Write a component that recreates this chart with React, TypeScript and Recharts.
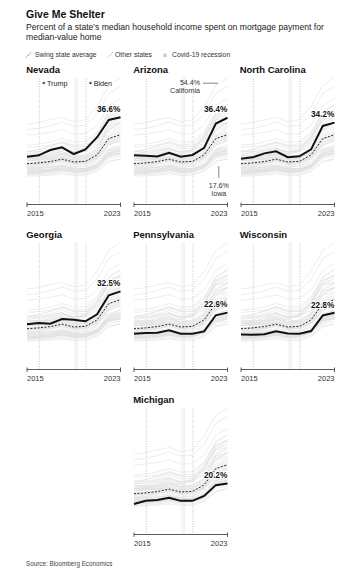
import React from 'react';
import { LineChart, Line, XAxis, YAxis, ReferenceLine, ReferenceArea, ReferenceDot, LabelList } from 'recharts';

const FONT = '"Liberation Sans", Arial, Helvetica, sans-serif';

// ---------- data ----------
const years = [2015, 2016, 2017, 2018, 2019, 2020, 2021, 2022, 2023];
const xTicks = [2015, 2023];
const swingAverage = [15.6, 16.0, 16.6, 17.7, 16.4, 16.7, 19.6, 27.0, 28.7];

const nevada = [18.8, 19.4, 21.8, 23.0, 20.0, 22.1, 27.6, 35.4, 36.6];
const arizona = [19.4, 19.2, 18.9, 20.6, 18.8, 19.6, 22.8, 33.8, 36.4];
const northCarolina = [17.9, 18.5, 20.3, 21.2, 18.6, 19.0, 22.1, 32.7, 34.2];
const georgia = [17.6, 18.2, 17.9, 20.0, 19.7, 19.0, 22.1, 30.7, 32.5];
const pennsylvania = [13.4, 13.7, 13.8, 14.9, 13.4, 13.4, 14.4, 21.7, 22.9];
const wisconsin = [13.0, 12.9, 13.1, 14.5, 13.5, 13.4, 14.6, 21.6, 22.8];
const michigan = [11.0, 12.4, 12.8, 13.8, 12.4, 12.4, 14.6, 19.5, 20.2];

const california = [33.5, 34.2, 35.5, 36.5, 34.5, 35.5, 41.5, 51.0, 54.4];
const hawaii = [31.0, 31.6, 32.8, 34.5, 32.6, 33.0, 38.0, 47.5, 50.5];
const districtOfColumbia = [28.5, 29.0, 29.8, 31.0, 29.0, 29.2, 33.0, 42.0, 45.0];
const massachusetts = [24.0, 24.5, 25.4, 27.0, 25.4, 25.6, 30.0, 39.0, 42.0];
const washington = [21.0, 21.9, 23.6, 25.8, 24.0, 24.6, 29.2, 39.0, 42.5];
const oregon = [21.2, 22.0, 23.4, 25.0, 23.2, 23.6, 28.0, 37.0, 40.0];
const colorado = [20.0, 20.9, 22.4, 24.0, 22.2, 22.6, 27.0, 36.0, 39.0];
const utah = [18.0, 18.9, 20.4, 22.5, 21.0, 21.6, 27.0, 37.0, 40.0];
const idaho = [16.8, 17.8, 19.4, 21.8, 20.8, 22.0, 28.2, 38.0, 39.5];
const montana = [17.8, 18.4, 19.5, 21.0, 20.0, 21.0, 26.0, 35.5, 38.0];
const newYork = [23.0, 23.4, 24.0, 25.2, 23.6, 23.5, 26.0, 32.0, 34.5];
const newJersey = [21.0, 21.2, 21.6, 22.6, 21.0, 21.1, 24.0, 31.0, 34.0];
const florida = [17.0, 17.5, 18.5, 20.0, 18.6, 19.0, 22.2, 31.0, 34.0];
const rhodeIsland = [20.0, 20.4, 21.0, 22.4, 21.0, 21.5, 25.0, 33.0, 36.0];
const connecticut = [18.2, 18.1, 18.0, 18.6, 17.1, 17.0, 19.0, 25.0, 28.0];
const maryland = [19.0, 19.0, 19.4, 20.0, 18.5, 18.6, 20.6, 26.0, 28.2];
const virginia = [18.0, 18.2, 18.7, 19.5, 18.0, 18.2, 20.5, 27.0, 29.0];
const newHampshire = [17.0, 17.3, 17.8, 19.0, 17.8, 18.0, 21.0, 28.0, 31.0];
const maine = [16.0, 16.4, 17.0, 18.5, 17.5, 18.0, 21.5, 29.0, 32.0];
const vermont = [17.2, 17.3, 17.6, 18.4, 17.3, 17.5, 20.0, 26.5, 29.5];
const delaware = [16.0, 16.2, 16.6, 17.5, 16.2, 16.4, 18.5, 25.0, 27.5];
const tennessee = [14.0, 14.5, 15.5, 17.0, 16.0, 16.5, 20.0, 28.0, 30.0];
const southCarolina = [14.5, 15.0, 15.8, 17.0, 15.8, 16.2, 19.0, 26.5, 29.0];
const texas = [15.0, 15.5, 16.2, 17.2, 15.8, 16.0, 18.5, 25.5, 27.0];
const newMexico = [15.5, 15.7, 16.0, 16.8, 15.5, 15.7, 18.0, 24.5, 26.5];
const alaska = [17.0, 17.2, 17.4, 18.0, 16.8, 16.5, 18.0, 22.5, 24.0];
const minnesota = [14.0, 14.3, 14.8, 15.7, 14.5, 14.6, 16.5, 22.0, 24.0];
const wyoming = [15.0, 15.3, 15.8, 16.5, 15.2, 15.5, 18.0, 24.0, 26.0];
const southDakota = [13.0, 13.4, 14.0, 15.0, 14.0, 14.5, 17.5, 24.0, 26.0];
const alabama = [12.5, 12.8, 13.3, 14.2, 13.2, 13.5, 15.8, 21.5, 23.0];
const louisiana = [13.5, 13.7, 14.0, 14.6, 13.4, 13.3, 15.0, 20.0, 21.5];
const missouri = [12.0, 12.3, 12.8, 13.8, 12.8, 13.0, 15.2, 20.8, 22.5];
const kentucky = [12.0, 12.3, 12.8, 13.6, 12.7, 12.9, 15.0, 20.5, 22.0];
const indiana = [11.0, 11.3, 11.8, 12.8, 12.0, 12.3, 14.6, 20.0, 21.5];
const ohio = [11.0, 11.2, 11.6, 12.4, 11.6, 11.8, 13.7, 18.8, 20.0];
const nebraska = [12.5, 12.7, 13.1, 13.9, 12.9, 13.0, 15.0, 20.3, 21.8];
const kansas = [11.5, 11.7, 12.1, 12.9, 12.0, 12.1, 14.0, 19.3, 20.5];
const oklahoma = [11.6, 11.8, 12.2, 13.0, 12.0, 12.2, 14.2, 19.5, 20.8];
const arkansas = [11.4, 11.8, 12.3, 13.2, 12.3, 12.6, 14.8, 20.3, 21.5];
const mississippi = [11.5, 11.7, 12.1, 12.8, 11.8, 12.0, 13.9, 18.8, 20.0];
const northDakota = [12.0, 12.2, 12.5, 13.0, 12.0, 12.0, 13.5, 18.0, 19.0];
const illinois = [14.0, 14.0, 14.2, 14.8, 13.6, 13.5, 15.0, 19.5, 20.5];
const westVirginia = [10.0, 10.2, 10.5, 11.0, 10.3, 10.4, 12.0, 16.5, 18.0];
const iowa = [10.5, 10.7, 11.0, 11.7, 10.9, 11.0, 12.7, 16.8, 17.6];

const swingStates = [
  { name: 'Nevada', values: nevada },
  { name: 'Arizona', values: arizona },
  { name: 'North Carolina', values: northCarolina },
  { name: 'Georgia', values: georgia },
  { name: 'Pennsylvania', values: pennsylvania },
  { name: 'Wisconsin', values: wisconsin },
  { name: 'Michigan', values: michigan },
];

const otherStates = [
  california, hawaii, districtOfColumbia, massachusetts, washington, oregon, colorado, utah,
  idaho, montana, newYork, newJersey, florida, rhodeIsland, connecticut, maryland, virginia,
  newHampshire, maine, vermont, delaware, tennessee, southCarolina, texas, newMexico, alaska,
  minnesota, wyoming, southDakota, alabama, louisiana, missouri, kentucky, indiana, ohio,
  nebraska, kansas, oklahoma, arkansas, mississippi, northDakota, illinois, westVirginia, iowa,
];

const trumpStart = 2016.05;
const bidenStart = 2020.05;
const covidStart = 2019.1;
const covidEnd = 2019.33;

// ---------- layout ----------
const PLOT_W = 93.5;
const PLOT_H = 127.5;
const M = 10;
const AX_H = 22;
const AXIS_Y = M + PLOT_H;
const colLeft = [27, 134, 240.5];
const rowTop = [77, 242, 407];
const panelPos = [
  [0, 0], [1, 0], [2, 0],
  [0, 1], [1, 1], [2, 1],
  [1, 2],
];

function YearTick(props: any) {
  const { x, payload } = props;
  const first = payload.value === xTicks[0];
  return (
    <g>
      <line x1={x} x2={x} y1={AXIS_Y - 2} y2={AXIS_Y + 2.5} stroke="#333" strokeWidth={0.8} />
      <text x={x} y={AXIS_Y + 11.5} textAnchor={first ? 'start' : 'end'} fontSize={7.5} fontFamily={FONT} fill="#333">
        {payload.value}
      </text>
    </g>
  );
}

function RefTag(props: any) {
  const { viewBox, text } = props;
  if (!viewBox) return null;
  const x = viewBox.x;
  const y = viewBox.y;
  return (
    <g>
      <polygon points={`${x + 2.6},${y + 6} ${x + 5.4},${y + 4.5} ${x + 5.4},${y + 7.5}`} fill="#333" />
      <text x={x + 7.7} y={y + 8.5} fontSize={7.2} fontFamily={FONT} fill="#222">{text}</text>
    </g>
  );
}

function CaliforniaTag(props: any) {
  const { viewBox } = props;
  if (!viewBox) return null;
  const cx = viewBox.x + (viewBox.width || 0) / 2;
  const cy = viewBox.y + (viewBox.height || 0) / 2;
  return (
    <g>
      <text x={cx - 27.5} y={cy + 7} textAnchor="end" fontSize={7.1} fontFamily={FONT} fill="#333">54.4%</text>
      <line x1={cx - 24.5} x2={cx - 9.5} y1={cy + 5.3} y2={cy + 5.3} stroke="#555" strokeWidth={0.7} />
      <text x={cx - 27.5} y={cy + 14.7} textAnchor="end" fontSize={7.1} fontFamily={FONT} fill="#333">California</text>
    </g>
  );
}

function IowaTag(props: any) {
  const { viewBox } = props;
  if (!viewBox) return null;
  const cx = viewBox.x + (viewBox.width || 0) / 2;
  const cy = viewBox.y + (viewBox.height || 0) / 2;
  const lx = cx - 8.7;
  return (
    <g>
      <line x1={lx} x2={lx} y1={cy + 6.7} y2={cy + 18.7} stroke="#555" strokeWidth={0.7} />
      <text x={lx} y={cy + 29} textAnchor="middle" fontSize={7.1} fontFamily={FONT} fill="#333">17.6%</text>
      <text x={lx} y={cy + 36.4} textAnchor="middle" fontSize={7.1} fontFamily={FONT} fill="#333">Iowa</text>
    </g>
  );
}

function Panel({ index }: { index: number }) {
  const state = swingStates[index];
  const [c, r] = panelPos[index];
  const left = colLeft[c];
  const top = rowTop[r];
  const greys = [
    ...otherStates,
    ...swingStates.filter((_, k) => k !== index).map((s) => s.values),
  ];
  const data = years.map((y, i) => {
    const row: any = { year: y, avg: swingAverage[i], main: state.values[i] };
    greys.forEach((g, k) => {
      row['o' + k] = g[i];
    });
    return row;
  });
  const last = years.length - 1;
  return (
    <div style={{ position: 'absolute', left: left - M, top: top - M }}>
      <LineChart
        width={PLOT_W + 2 * M}
        height={M + PLOT_H + AX_H}
        data={data}
        margin={{ top: M, right: M, left: M, bottom: 0 }}
      >
        <XAxis
          dataKey="year"
          type="number"
          domain={[years[0], years[last]]}
          ticks={xTicks}
          interval={0}
          height={AX_H}
          axisLine={{ stroke: '#333', strokeWidth: 0.8 }}
          tickLine={false}
          tick={<YearTick />}
        />
        <YAxis hide type="number" domain={[-2.8, 54.8]} allowDataOverflow />
        <ReferenceArea x1={covidStart} x2={covidEnd} fill="#f7f7f7" fillOpacity={1} stroke="none" />
        <ReferenceLine x={covidStart} stroke="#e6e6e6" strokeWidth={0.5} />
        <ReferenceLine x={covidEnd} stroke="#e6e6e6" strokeWidth={0.5} />
        <ReferenceLine
          x={trumpStart}
          stroke="#a8a8a8"
          strokeWidth={0.7}
          strokeDasharray="1 1.5"
          label={index === 0 ? <RefTag text="Trump" /> : undefined}
        />
        <ReferenceLine
          x={bidenStart}
          stroke="#a8a8a8"
          strokeWidth={0.7}
          strokeDasharray="1 1.5"
          label={index === 0 ? <RefTag text="Biden" /> : undefined}
        />
        {greys.map((_, k) => (
          <Line
            key={'o' + k}
            dataKey={'o' + k}
            stroke="#e0e0e0"
            strokeWidth={0.6}
            dot={false}
            activeDot={false}
            isAnimationActive={false}
          />
        ))}
        <Line
          dataKey="avg"
          stroke="#222"
          strokeWidth={1}
          strokeDasharray="2 1.5"
          dot={false}
          activeDot={false}
          isAnimationActive={false}
        />
        <Line
          dataKey="main"
          stroke="#111"
          strokeWidth={2}
          dot={false}
          activeDot={false}
          isAnimationActive={false}
        >
          <LabelList
            dataKey="main"
            content={(lp: any) =>
              lp.index === last ? (
                <text
                  x={lp.x}
                  y={lp.y - 5.3}
                  textAnchor="end"
                  fontSize={8.3}
                  fontWeight={700}
                  fontFamily={FONT}
                  fill="#111"
                  stroke="#fff"
                  strokeWidth={2}
                  paintOrder="stroke"
                >
                  {Number(lp.value).toFixed(1)}%
                </text>
              ) : null
            }
          />
        </Line>
        {index === 1 && (
          <ReferenceDot x={years[last]} y={california[last]} r={1} fill="none" stroke="none" label={<CaliforniaTag />} />
        )}
        {index === 1 && (
          <ReferenceDot x={years[last]} y={iowa[last]} r={1} fill="none" stroke="none" label={<IowaTag />} />
        )}
      </LineChart>
    </div>
  );
}

export default function App() {
  return (
    <div style={{ position: 'absolute', left: 0, top: 0, width: 352, height: 578, background: '#fff', overflow: 'hidden' }}>
      <svg width={352} height={578} style={{ position: 'absolute', left: 0, top: 0 }}>
        <text x={26} y={18.3} fontSize={10.5} fontWeight={700} fontFamily={FONT} fill="#111">Give Me Shelter</text>
        <text x={26} y={30} fontSize={8.6} fontFamily={FONT} fill="#222">
          Percent of a state's median household income spent on mortgage payment for
        </text>
        <text x={26} y={39.5} fontSize={8.6} fontFamily={FONT} fill="#222">median-value home</text>

        <line x1={26} y1={57.5} x2={31.5} y2={52} stroke="#333" strokeWidth={0.9} strokeDasharray="1 1" />
        <text x={35} y={56.8} fontSize={6.8} fontFamily={FONT} fill="#333">Swing state average</text>
        <line x1={108} y1={57.5} x2={113} y2={52} stroke="#c8c8c8" strokeWidth={0.9} />
        <text x={115} y={56.8} fontSize={6.8} fontFamily={FONT} fill="#333">Other states</text>
        <rect x={163.3} y={53.6} width={3.4} height={3.4} fill="#cccccc" />
        <text x={172} y={56.8} fontSize={6.8} fontFamily={FONT} fill="#333">Covid-19 recession</text>

        {swingStates.map((s, i) => {
          const [c, r] = panelPos[i];
          return (
            <text key={s.name} x={colLeft[c] - 0.8} y={rowTop[r] - 4.3} fontSize={9.5} fontWeight={700} fontFamily={FONT} fill="#111">
              {s.name}
            </text>
          );
        })}

        <text x={26} y={566} fontSize={6.3} fontFamily={FONT} fill="#444">Source: Bloomberg Economics</text>
      </svg>
      {swingStates.map((s, i) => (
        <Panel key={s.name} index={i} />
      ))}
    </div>
  );
}
